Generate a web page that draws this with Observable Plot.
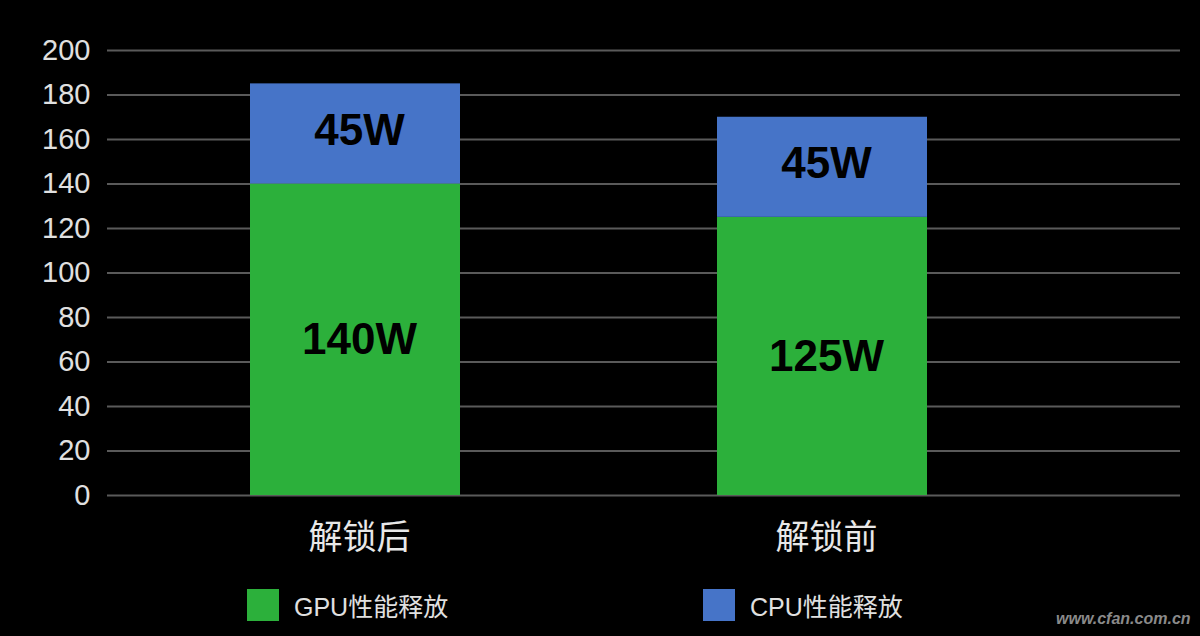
<!DOCTYPE html>
<html><head><meta charset="utf-8">
<script src="https://cdn.jsdelivr.net/npm/d3@7"></script>
<script src="https://cdn.jsdelivr.net/npm/@observablehq/plot@0.6"></script>
<style>
html,body{margin:0;padding:0;background:#000;}
body{width:1200px;height:636px;overflow:hidden;position:relative;font-family:"Liberation Sans","Noto Sans CJK SC",Arial,sans-serif;}
#chart{position:absolute;left:0;top:0;}
.leg{position:absolute;display:flex;align-items:center;color:#e0e0e0;font-size:25px;font-family:"Liberation Sans","Noto Sans CJK SC",sans-serif;}
.sw{width:32px;height:32px;margin-right:15px;}
#wm{position:absolute;left:1056px;top:610px;color:#8a8a8a;font-size:16px;font-style:italic;font-weight:bold;font-family:"Liberation Sans",sans-serif;white-space:nowrap;}
</style></head><body>
<div id="chart"></div>
<div id="legend"></div>
<div id="wm">www.cfan.com.cn</div>
<script>
const categories = ["解锁后", "解锁前"];
const series = ["GPU性能释放", "CPU性能释放"];
const gpuValues = [140, 125];
const cpuValues = [45, 45];
const yTicks = [0, 20, 40, 60, 80, 100, 120, 140, 160, 180, 200];
const colors = ["#2cb03b", "#4674c8"];

const data = categories.flatMap((c, i) => [
  {cat: c, series: series[0], value: gpuValues[i]},
  {cat: c, series: series[1], value: cpuValues[i]}
]);

const labelOpts = {x: "cat", y: "value", text: d => d.value + "W", fontSize: 44, fontWeight: "bold", fill: "#000", dx: 4};

const chart = Plot.plot({
  width: 1200,
  height: 565,
  marginLeft: 107,
  marginRight: 20,
  marginTop: 50,
  marginBottom: 70,
  style: {background: "#000", color: "#e0e0e0", fontFamily: "'Liberation Sans','Noto Sans CJK SC',sans-serif"},
  x: {domain: categories, range: [249, 927], paddingInner: 0.551, paddingOuter: 0, label: null},
  y: {domain: [0, 200], label: null},
  color: {domain: series, range: colors},
  marks: [
    Plot.ruleY(yTicks, {stroke: "#5a5a5a", strokeWidth: 2}),
    Plot.barY(data, {x: "cat", y: "value", fill: "series"}),
    Plot.axisY({ticks: yTicks, tickSize: 0, tickPadding: 17, fontSize: 29, label: null, fill: "#e0e0e0"}),
    Plot.axisX({tickSize: 0, tickPadding: 29, fontSize: 34, label: null, fill: "#e8e8e8", fontFamily: "'Noto Sans CJK SC',sans-serif", dx: 4}),
    Plot.text(data, Plot.filter(d => d.series === series[1], Plot.stackY({...labelOpts, dy: -3}))),
    Plot.text(data, Plot.filter(d => d.series === series[0], Plot.stackY({...labelOpts, dy: 0})))
  ]
});
document.getElementById("chart").appendChild(chart);

const legendPos = [247, 703];
const legend = document.getElementById("legend");
series.forEach((s, i) => {
  const item = document.createElement("div");
  item.className = "leg";
  item.style.left = legendPos[i] + "px";
  item.style.top = "587px";
  const sw = document.createElement("div");
  sw.className = "sw";
  sw.style.background = colors[i];
  const t = document.createElement("span");
  t.textContent = s;
  item.appendChild(sw);
  item.appendChild(t);
  legend.appendChild(item);
});
</script>
</body></html>
